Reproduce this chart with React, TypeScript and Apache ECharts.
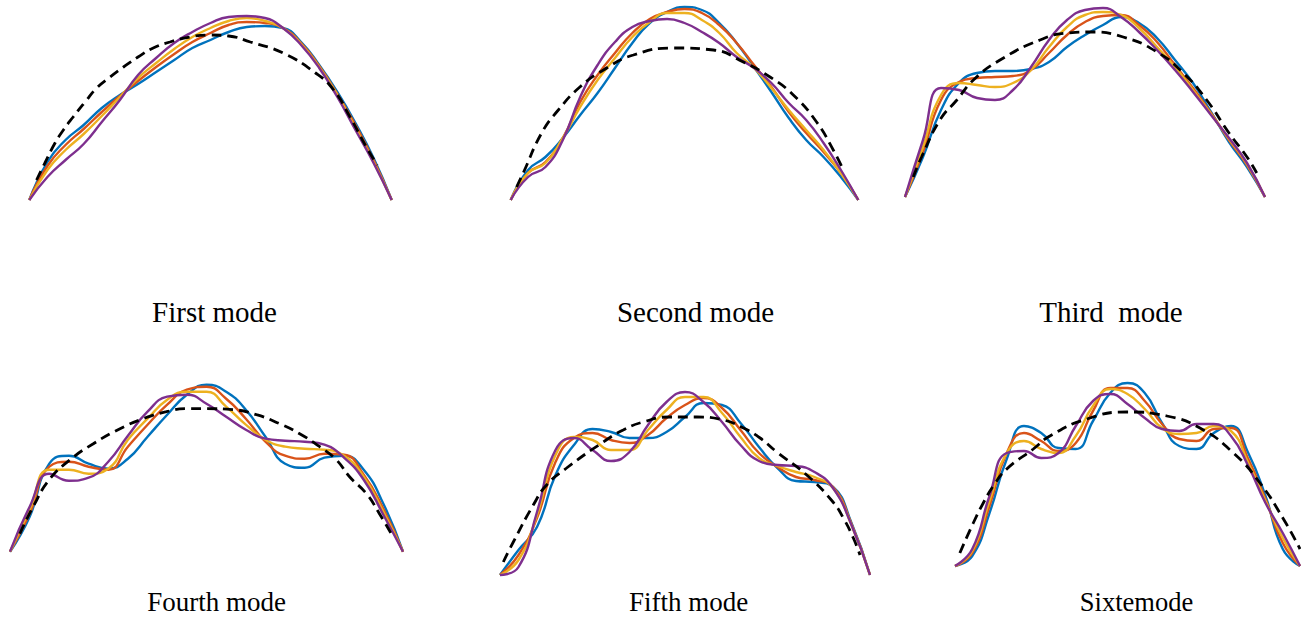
import React, { useEffect, useRef } from "react";
import * as echarts from "echarts";

// Position along the span (0 = left support, 1 = right support)
const POSITIONS = [0, 0.05, 0.1, 0.15, 0.2, 0.25, 0.3, 0.35, 0.4, 0.45, 0.5, 0.55, 0.6, 0.65, 0.7, 0.75, 0.8, 0.85, 0.9, 0.95, 1];

const MODE_TITLES = ["First mode", "Second mode", "Third  mode", "Fourth mode", "Fifth mode", "Sixtemode"];
const CURVE_NAMES = ["Case 1", "Case 2", "Case 3", "Case 4"];
const REF_NAME = "Reference";

// ---- First mode ----
const M1_BLUE = [0, 38, 60, 75, 92, 105, 116, 128, 140, 152, 160, 168, 173, 174, 172, 158, 135, 108, 77, 42, 0];
const M1_RED = [0, 34, 55, 71, 88, 104, 119, 133, 146, 158, 167, 175, 178, 177, 172, 157, 134, 106, 75, 40, 0];
const M1_YELLOW = [0, 30, 50, 66, 84, 103, 122, 137, 151, 163, 172, 179, 182, 179, 172, 156, 133, 105, 72, 38, 0];
const M1_PURPLE = [0, 23, 40, 56, 78, 100, 125, 142, 157, 168, 177, 183, 184, 182, 172, 155, 132, 103, 70, 37, 0];
const M1_REF_X = [0.02, 0.043, 0.071, 0.094, 0.121, 0.154, 0.186, 0.223, 0.26, 0.3, 0.342, 0.388, 0.443, 0.498, 0.55, 0.61, 0.7, 0.79, 0.84, 0.885, 0.93, 0.96];
const M1_REF_Y = [20, 37, 57, 70, 83, 98, 112, 123, 133, 143, 152, 158, 163, 165, 164, 158, 147, 127, 110, 83, 53, 35];

// ---- Second mode ----
const M2_BLUE = [0, 30, 43, 62, 85, 107, 132, 157, 177, 188, 193, 190, 177, 157, 133, 108, 82, 60, 43, 23, 0];
const M2_RED = [0, 27, 38, 62, 98, 125, 147, 167, 181, 188, 191, 187, 175, 157, 135, 113, 88, 67, 48, 27, 0];
const M2_YELLOW = [0, 27, 37, 62, 93, 120, 142, 163, 178, 187, 187, 180, 167, 147, 132, 112, 90, 70, 50, 27, 0];
const M2_PURPLE = [0, 23, 33, 60, 103, 135, 158, 173, 179, 181, 177, 168, 157, 143, 132, 117, 97, 80, 57, 30, 0];
const M2_REF_X = [0.017, 0.036, 0.089, 0.137, 0.199, 0.267, 0.353, 0.468, 0.583, 0.669, 0.746, 0.813, 0.88, 0.928, 0.957];
const M2_REF_Y = [13, 27, 67, 90, 113, 130, 145, 152, 150, 138, 123, 105, 78, 50, 30];

// ---- Third mode ----
const M3_BLUE = [0, 40, 87, 114, 124, 126, 126, 128, 135, 150, 162, 172, 180, 174, 159, 137, 114, 85, 55, 30, 0];
const M3_RED = [0, 45, 97, 115, 119, 120, 121, 127, 144, 162, 175, 181, 182, 172, 155, 132, 109, 84, 57, 32, 0];
const M3_YELLOW = [0, 50, 102, 114, 112, 110, 114, 127, 150, 170, 182, 185, 182, 169, 150, 130, 107, 83, 58, 33, 0];
const M3_PURPLE = [0, 57, 109, 107, 99, 97, 107, 130, 157, 177, 187, 189, 180, 165, 147, 127, 105, 82, 59, 34, 0];
const M3_REF_X = [0.023, 0.046, 0.097, 0.144, 0.19, 0.264, 0.375, 0.45, 0.514, 0.606, 0.7, 0.773, 0.838, 0.9, 0.95, 0.977];
const M3_REF_Y = [20, 40, 77, 97, 117, 137, 157, 164, 165, 160, 145, 124, 97, 64, 40, 24];

// ---- Fourth mode ----
const M4_BLUE = [0, 35, 88, 96, 88, 83, 93, 115, 137, 157, 167, 160, 142, 115, 88, 84, 94, 96, 82, 48, 0];
const M4_RED = [0, 38, 85, 90, 85, 82, 105, 127, 147, 162, 165, 153, 133, 110, 96, 93, 98, 97, 77, 43, 0];
const M4_YELLOW = [0, 42, 82, 82, 78, 83, 112, 133, 152, 160, 160, 145, 127, 112, 105, 103, 102, 96, 75, 40, 0];
const M4_PURPLE = [0, 45, 78, 71, 74, 90, 116, 140, 155, 157, 148, 135, 122, 113, 111, 110, 107, 94, 72, 37, 0];
const M4_REF_X = [0.025, 0.059, 0.1, 0.153, 0.212, 0.28, 0.339, 0.398, 0.449, 0.5, 0.568, 0.627, 0.686, 0.737, 0.788, 0.83, 0.864, 0.907, 0.94, 0.97];
const M4_REF_Y = [18, 45, 72, 92, 108, 123, 133, 140, 143, 143, 142, 137, 128, 118, 105, 92, 75, 58, 38, 18];

// ---- Fifth mode ----
const M5_BLUE = [0, 25, 48, 100, 130, 146, 143, 137, 137, 143, 158, 172, 170, 152, 128, 107, 94, 93, 88, 52, 0];
const M5_RED = [0, 20, 57, 113, 137, 142, 135, 132, 140, 157, 170, 177, 167, 145, 122, 108, 98, 95, 88, 51, 0];
const M5_YELLOW = [0, 15, 60, 120, 138, 135, 125, 125, 145, 165, 178, 178, 162, 138, 117, 109, 103, 98, 87, 50, 0];
const M5_PURPLE = [0, 8, 63, 125, 137, 125, 114, 123, 150, 173, 183, 173, 153, 130, 114, 110, 109, 103, 87, 50, 0];
const M5_REF_X = [0.009, 0.036, 0.09, 0.126, 0.18, 0.279, 0.333, 0.387, 0.459, 0.532, 0.604, 0.658, 0.703, 0.748, 0.829, 0.9, 0.928, 0.955, 0.973];
const M5_REF_Y = [13, 33, 70, 90, 107, 133, 145, 153, 158, 158, 155, 147, 137, 123, 100, 73, 57, 37, 20];

// ---- Sixth mode ----
const M6_BLUE = [0, 10, 53, 107, 140, 133, 118, 117, 145, 173, 183, 173, 143, 120, 117, 133, 140, 113, 70, 17, 0];
const M6_RED = [0, 13, 60, 113, 133, 125, 115, 123, 155, 178, 178, 165, 142, 127, 125, 137, 138, 107, 67, 23, 0];
const M6_YELLOW = [0, 15, 65, 113, 125, 117, 113, 130, 160, 177, 172, 157, 138, 132, 133, 140, 135, 103, 65, 28, 0];
const M6_PURPLE = [0, 17, 70, 113, 115, 108, 113, 140, 165, 172, 162, 148, 137, 135, 142, 142, 130, 100, 63, 33, 0];
const M6_REF_X = [0.014, 0.053, 0.082, 0.111, 0.15, 0.227, 0.275, 0.382, 0.498, 0.614, 0.71, 0.807, 0.884, 0.952, 1.0];
const M6_REF_Y = [13, 43, 63, 80, 97, 117, 130, 147, 154, 150, 138, 113, 83, 47, 17];

const MODES = [
  { curves: [M1_BLUE, M1_RED, M1_YELLOW, M1_PURPLE], refX: M1_REF_X, refY: M1_REF_Y },
  { curves: [M2_BLUE, M2_RED, M2_YELLOW, M2_PURPLE], refX: M2_REF_X, refY: M2_REF_Y },
  { curves: [M3_BLUE, M3_RED, M3_YELLOW, M3_PURPLE], refX: M3_REF_X, refY: M3_REF_Y },
  { curves: [M4_BLUE, M4_RED, M4_YELLOW, M4_PURPLE], refX: M4_REF_X, refY: M4_REF_Y },
  { curves: [M5_BLUE, M5_RED, M5_YELLOW, M5_PURPLE], refX: M5_REF_X, refY: M5_REF_Y },
  { curves: [M6_BLUE, M6_RED, M6_YELLOW, M6_PURPLE], refX: M6_REF_X, refY: M6_REF_Y },
];

// Layout (pixels): panel plot boxes and title anchors
const PANEL_BOX = [
  { left: 29.3, width: 362.4, baseline: 200 },
  { left: 510.7, width: 347.6, baseline: 200 },
  { left: 905, width: 360, baseline: 197 },
  { left: 10, width: 393, baseline: 551.7 },
  { left: 500, width: 370, baseline: 575 },
  { left: 955, width: 345, baseline: 566 },
];
const PANEL_H = 190;
const TITLE_POS = [
  { x: 214.5, y: 311.5, size: 29 },
  { x: 695.5, y: 311.5, size: 29 },
  { x: 1111, y: 311.5, size: 29 },
  { x: 216.5, y: 602, size: 27 },
  { x: 688.5, y: 602, size: 27 },
  { x: 1136.5, y: 602, size: 26.5 },
];

const COLORS = ["#0072BD", "#D95319", "#EDB120", "#7E2F8E"];

function buildOption() {
  const grid: any[] = [];
  const xAxis: any[] = [];
  const yAxis: any[] = [];
  const series: any[] = [];
  MODES.forEach((mode, i) => {
    const box = PANEL_BOX[i];
    grid.push({ left: box.left, width: box.width, top: box.baseline - PANEL_H, height: PANEL_H, containLabel: false });
    xAxis.push({ type: "value", gridIndex: i, min: 0, max: 1, show: false });
    yAxis.push({ type: "value", gridIndex: i, min: 0, max: PANEL_H, show: false });
    mode.curves.forEach((ys, k) => {
      series.push({
        type: "line",
        name: CURVE_NAMES[k],
        xAxisIndex: i,
        yAxisIndex: i,
        data: POSITIONS.map((x, j) => [x, ys[j]]),
        smooth: 0.5,
        showSymbol: false,
        clip: false,
        lineStyle: { color: COLORS[k], width: 2.4 },
        z: 2 + k,
      });
    });
    series.push({
      type: "line",
      name: REF_NAME,
      xAxisIndex: i,
      yAxisIndex: i,
      data: mode.refX.map((x, j) => [x, mode.refY[j]]),
      smooth: 0.5,
      showSymbol: false,
      clip: false,
      lineStyle: { color: "#000", width: 2.8, type: [10, 6] },
      z: 10,
    });
  });
  const graphic = MODE_TITLES.map((t, i) => ({
    type: "text",
    x: TITLE_POS[i].x,
    y: TITLE_POS[i].y,
    style: {
      text: t,
      font: `${TITLE_POS[i].size}px "Liberation Serif", "Times New Roman", serif`,
      fill: "#000",
      textAlign: "center",
      textVerticalAlign: "middle",
      align: "center",
      verticalAlign: "middle",
    },
  }));
  return { animation: false, backgroundColor: "#fff", grid, xAxis, yAxis, series, graphic };
}

export default function App() {
  const ref = useRef<HTMLDivElement>(null);
  useEffect(() => {
    if (!ref.current) return;
    const chart = echarts.init(ref.current, undefined, { renderer: "svg" });
    chart.setOption(buildOption());
    return () => chart.dispose();
  }, []);
  return (
    <div
      ref={ref}
      style={{ position: "fixed", left: 0, top: 0, width: 1301, height: 618, background: "#fff" }}
    />
  );
}
